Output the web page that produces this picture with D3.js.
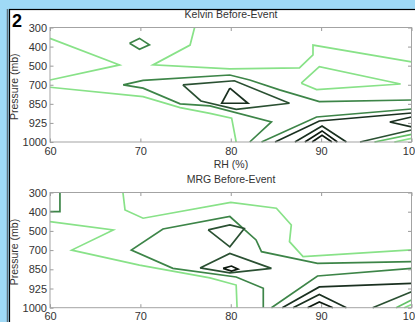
<!DOCTYPE html>
<html>
<head>
<meta charset="utf-8">
<script src="https://cdn.jsdelivr.net/npm/d3@7"></script>
<style>
  html, body { margin: 0; padding: 0; background: #9fd9f6; }
  svg { display: block; }
  text { font-family: "Liberation Sans", Arial, sans-serif; fill: #333; }
</style>
</head>
<body>
<svg id="fig" width="415" height="322"></svg>
<script>
// Pressure levels (evenly spaced on the vertical axis) and RH ticks
const pressureLevels = ["300", "400", "500", "700", "850", "925", "1000"];
const rhTicks = [60, 70, 80, 90, 100];

// Contour colours, light (low level) to dark (high level)
const levelColors = ["#88e288", "#62c066", "#3d8548", "#2a5032", "#1a3020", "#0e1a10"];

// Contour vertices: [RH (%), position on the pressure axis (0 = 300 mb ... 6 = 1000 mb)]
const kelvinOuterLeft   = [[60, 0.57], [67.7, 1.96], [60, 2.75]];
const kelvinUpper       = [[76, 0], [75.5, 0.92], [71.4, 1.96], [79.9, 2.17], [87.6, 2.12], [89.1, 1.44], [89.1, 0.92], [100, 1.8]];
const kelvinRightLoop   = [[87.8, 2.92], [89.8, 2.05], [98.8, 2.96], [89.5, 3.25]];
const kelvinLowerLight  = [[60, 3.13], [70.3, 3.62], [74.4, 4.2], [77.7, 4.5], [80.1, 4.75], [80.6, 6]];
const kelvinWedge       = [[100, 3.8], [89.8, 3.88], [85.4, 3.27], [82.1, 2.75], [79.9, 2.49], [70.3, 2.77], [68.1, 3.01], [70.3, 3.18], [74.4, 4.0], [77.7, 4.11], [84.5, 4.95], [82.1, 6]];
const kelvinSmallLoop   = [[68.8, 0.83], [69.9, 0.57], [71.0, 0.91], [69.9, 1.14]];
const kelvinCoreLoop    = [[74.7, 3.01], [80.4, 2.79], [86.5, 3.97], [80.6, 4.29], [76.7, 3.85]];
const kelvinCoreInner   = [[79.9, 3.18], [79.0, 3.97], [81.9, 3.97]];
const kelvinFanA        = [[83.4, 6], [89.5, 4.69], [100, 4.27]];
const kelvinFanB        = [[84.9, 6], [89.8, 4.9], [100, 4.48]];
const kelvinPeakA       = [[87.1, 6], [90.1, 5.16], [92.8, 6]];
const kelvinPeakB       = [[88.2, 6], [90.1, 5.42], [91.8, 6]];
const kelvinPeakC       = [[89.0, 6], [90.1, 5.65], [91.2, 6]];
const kelvinEdgeLoop    = [[100, 4.69], [97.6, 4.95], [100, 5.21]];
const kelvinCornerA     = [[94.3, 6], [100, 5.37]];
const kelvinCornerB     = [[95.9, 6], [100, 5.6]];
const kelvinCornerC     = [[98.1, 6], [100, 5.81]];

const mrgUpper          = [[68.07, 0], [68.3, 0.91], [70.3, 1.34], [80, 0.52], [85.05, 0.82], [86.7, 1.69], [86.5, 2.56], [88.0, 3.34], [100, 2.99]];
const mrgLowerLight     = [[60, 1.52], [67.0, 1.95], [62.4, 3.0], [69.9, 3.78], [77.7, 4.45], [80.6, 4.82], [80.7, 6]];
const mrgWedge          = [[100, 3.6], [89.6, 3.69], [83.4, 3.08], [82.8, 2.47], [79.9, 1.25], [72.5, 1.9], [69.0, 3.0], [73.6, 3.95], [80.6, 4.4], [83.6, 4.99], [83.6, 6]];
const mrgCorner         = [[61.1, 0], [61.1, 1.0], [60, 1.0]];
const mrgLoopHigh       = [[77.5, 1.95], [79.9, 1.69], [81.5, 1.87], [79.9, 2.83]];
const mrgLoopLow        = [[76.6, 3.93], [79.9, 3.17], [84.5, 3.95], [79.9, 4.19]];
const mrgLoopCore       = [[79.15, 3.95], [80.08, 3.83], [80.8, 3.99], [80.08, 4.09]];
const mrgFanA           = [[84.5, 6], [89.6, 4.35], [100, 3.95]];
const mrgFanB           = [[85.7, 6], [89.8, 4.92], [100, 4.73]];
const mrgPeakA          = [[86.9, 6], [89.8, 5.31], [92.8, 6]];
const mrgPeakB          = [[88.5, 6], [89.8, 5.7], [91.3, 6]];
const mrgCornerA        = [[95.7, 6], [100, 5.17]];
const mrgCornerB        = [[98.3, 6], [100, 5.6]];
const mrgCornerC        = [[99.2, 6], [100, 5.83]];

// Each contour: vertices, contour level (1..6), closed ring or open line
const kelvinContours = [
  { pts: kelvinOuterLeft, level: 1, closed: false },
  { pts: kelvinUpper, level: 1, closed: false },
  { pts: kelvinRightLoop, level: 1, closed: true },
  { pts: kelvinLowerLight, level: 1, closed: false },
  { pts: kelvinWedge, level: 3, closed: false },
  { pts: kelvinSmallLoop, level: 3, closed: true },
  { pts: kelvinCoreLoop, level: 4, closed: true },
  { pts: kelvinCoreInner, level: 5, closed: true },
  { pts: kelvinFanA, level: 3, closed: false },
  { pts: kelvinFanB, level: 5, closed: false },
  { pts: kelvinPeakA, level: 5, closed: false },
  { pts: kelvinPeakB, level: 6, closed: false },
  { pts: kelvinPeakC, level: 6, closed: false },
  { pts: kelvinEdgeLoop, level: 5, closed: false },
  { pts: kelvinCornerA, level: 4, closed: false },
  { pts: kelvinCornerB, level: 2, closed: false },
  { pts: kelvinCornerC, level: 1, closed: false }
];

const mrgContours = [
  { pts: mrgUpper, level: 1, closed: false },
  { pts: mrgLowerLight, level: 1, closed: false },
  { pts: mrgWedge, level: 3, closed: false },
  { pts: mrgCorner, level: 3, closed: false },
  { pts: mrgLoopHigh, level: 4, closed: true },
  { pts: mrgLoopLow, level: 4, closed: true },
  { pts: mrgLoopCore, level: 6, closed: true },
  { pts: mrgFanA, level: 3, closed: false },
  { pts: mrgFanB, level: 5, closed: false },
  { pts: mrgPeakA, level: 5, closed: false },
  { pts: mrgPeakB, level: 6, closed: false },
  { pts: mrgCornerA, level: 4, closed: false },
  { pts: mrgCornerB, level: 2, closed: false },
  { pts: mrgCornerC, level: 1, closed: false }
];

const svg = d3.select("#fig");

// Page frame: blue surround, thin gray rule, white sheet with black edge
svg.append("rect").attr("width", 415).attr("height", 322).attr("fill", "#9fd9f6");
svg.append("line").attr("x1", 7.5).attr("x2", 7.5).attr("y1", 9).attr("y2", 322)
  .attr("stroke", "#5d6f7c").attr("stroke-width", 1.5);
svg.append("rect").attr("x", 9.5).attr("y", 9.5).attr("width", 410).attr("height", 320)
  .attr("fill", "#fff").attr("stroke", "#000").attr("stroke-width", 1.2);

svg.append("text").attr("x", 12).attr("y", 27)
  .style("font-size", "18px").style("font-weight", "bold").style("fill", "#000").text("2");

const x = d3.scaleLinear().domain([60, 100]).range([50, 411.5]);

function drawPanel(top, bottom, title, contours, showXLabel) {
  const y = d3.scaleLinear().domain([0, 6]).range([top, bottom]);
  const g = svg.append("g");

  // Title
  g.append("text").attr("x", 231).attr("y", top - 9.5).attr("text-anchor", "middle")
    .style("font-size", "10.5px").text(title);

  // Contour lines
  const line = d3.line().x(d => x(d[0])).y(d => y(d[1]));
  const plot = g.append("g");
  plot.selectAll("path").data(contours).join("path")
    .attr("d", c => line(c.closed ? c.pts.concat([c.pts[0]]) : c.pts))
    .attr("fill", "none")
    .attr("stroke", c => levelColors[c.level - 1])
    .attr("stroke-width", 1.7)
    .attr("stroke-linejoin", "miter");

  // Axes with inward ticks
  const left = d3.axisLeft(y).tickValues(d3.range(pressureLevels.length))
    .tickFormat(i => pressureLevels[i]).tickSize(-3.5).tickPadding(3);
  const bottomAx = d3.axisBottom(x).tickValues(rhTicks).tickSize(-3.5).tickPadding(5);
  const right = d3.axisRight(y).tickValues(d3.range(pressureLevels.length)).tickSize(-3.5).tickFormat("");
  const topAx = d3.axisTop(x).tickValues(rhTicks).tickSize(-3.5).tickFormat("");

  const styleAxis = sel => {
    sel.select(".domain").remove();
    sel.selectAll(".tick line").attr("stroke", "#9a9a9a");
    sel.selectAll(".tick text").attr("fill", "#333").style("font-size", "11px")
      .style("font-family", "'Liberation Sans', Arial, sans-serif");
  };
  g.append("g").attr("transform", `translate(${x(60)},0)`).call(left).call(styleAxis);
  g.append("g").attr("transform", `translate(0,${bottom})`).call(bottomAx).call(styleAxis);
  g.append("g").attr("transform", `translate(${x(100)},0)`).call(right).call(styleAxis);
  g.append("g").attr("transform", `translate(0,${top})`).call(topAx).call(styleAxis);

  // Plot box
  g.append("rect").attr("x", x(60)).attr("y", top).attr("width", x(100) - x(60)).attr("height", bottom - top)
    .attr("fill", "none").attr("stroke", "#a3a3a3").attr("stroke-width", 1);

  // Axis titles
  g.append("text").attr("transform", `translate(18,${(top + bottom) / 2 + 2}) rotate(-90)`)
    .attr("text-anchor", "middle").style("font-size", "10.5px").text("Pressure (mb)");
  if (showXLabel) {
    g.append("text").attr("x", 231).attr("y", bottom + 26).attr("text-anchor", "middle")
      .style("font-size", "10.5px").text("RH (%)");
  }
}

drawPanel(27.5, 142, "Kelvin Before-Event", kelvinContours, true);
drawPanel(192.5, 307.7, "MRG Before-Event", mrgContours, false);
</script>
</body>
</html>
